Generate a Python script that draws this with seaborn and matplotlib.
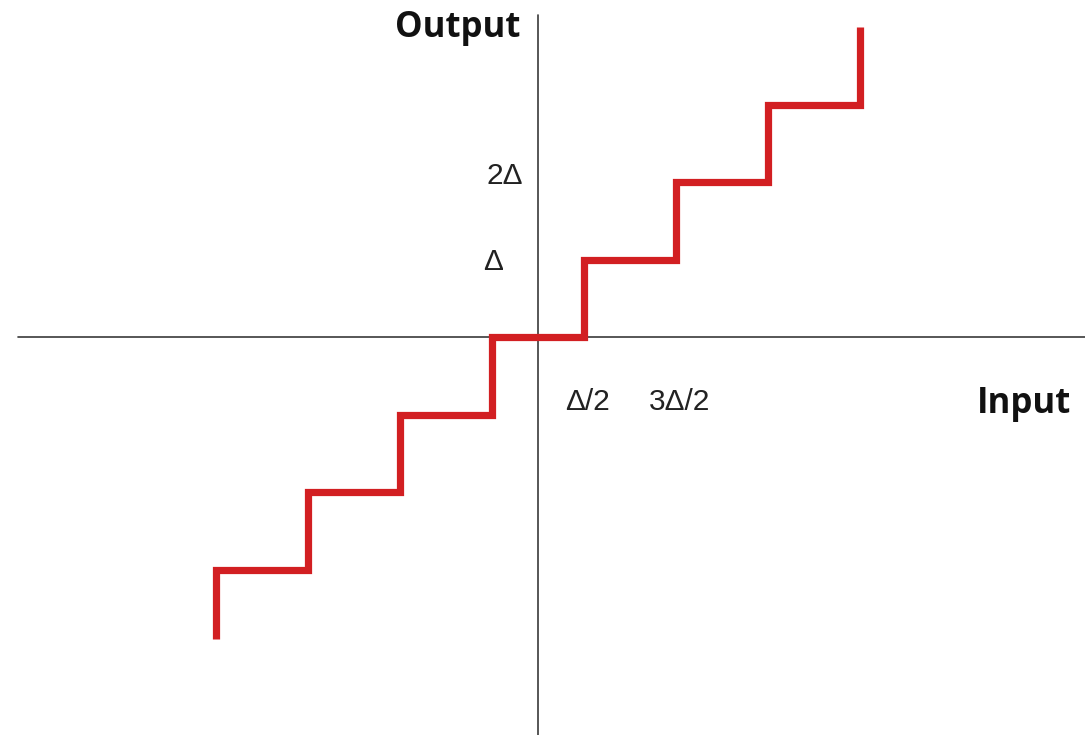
import matplotlib
matplotlib.use("Agg")
import matplotlib.pyplot as plt
import seaborn as sns
import pandas as pd

# Data: quantizer staircase (units of Δ)
thresholds = [-3.5, -2.5, -1.5, -0.5, 0.5, 1.5, 2.5, 3.5]
levels = [-3.9, -3, -2, -1, 0, 1, 2, 3, 4]
y_tick_labels = ["Δ", "2Δ"]
x_tick_labels = ["Δ/2", "3Δ/2"]
axis_names = ["Input", "Output"]

# Build the staircase path from thresholds and levels
xs, ys = [], []
for i, t in enumerate(thresholds):
    xs += [t, t]
    ys += [levels[i], levels[i + 1]]
df = pd.DataFrame({"x": xs, "y": ys, "order": range(len(xs))})

sns.set_theme(style="white")
plt.rcParams["font.family"] = ["Liberation Sans", "DejaVu Sans"]

fig = plt.figure(figsize=(10.85, 7.35), dpi=100)
ax = fig.add_axes([0, 0, 1, 1])

PX, PY = 92.0, 77.5
OX, OY = 538.0, 337.0
def dx(px):
    return (px - OX) / PX
def dy(py):
    return (OY - py) / PY

ax.set_xlim(dx(0), dx(1085))
ax.set_ylim(dy(735), dy(0))

# coordinate axes
ax.plot([dx(18), dx(1085)], [0, 0], color="#3a3a3a", lw=1.2, zorder=1)
ax.plot([0, 0], [dy(735), dy(15)], color="#3a3a3a", lw=1.2, zorder=1)

sns.lineplot(data=df, x="x", y="y", sort=False, estimator=None,
             color="#d21f22", lw=5.2, ax=ax, zorder=3)
for ln in ax.lines[-1:]:
    ln.set_solid_joinstyle("miter")
    ln.set_solid_capstyle("butt")

# labels
bold = dict(fontfamily=["Open Sans", "DejaVu Sans"], fontweight="bold",
            fontsize=25, color="#111111", ha="center", va="baseline")
ax.text(dx(458), dy(37), axis_names[1], **bold)
ax.text(dx(1024), dy(413), axis_names[0], **bold)

reg = dict(fontsize=21.5, color="#222222", ha="center", va="baseline")
ax.text(dx(505), dy(184), y_tick_labels[1], **reg)
ax.text(dx(493), dy(270), y_tick_labels[0], **reg)
ax.text(dx(587), dy(410), x_tick_labels[0], **reg)
ax.text(dx(680), dy(410), x_tick_labels[1], **reg)

ax.set_axis_off()
fig.savefig("out.png", dpi=100, facecolor="white")
